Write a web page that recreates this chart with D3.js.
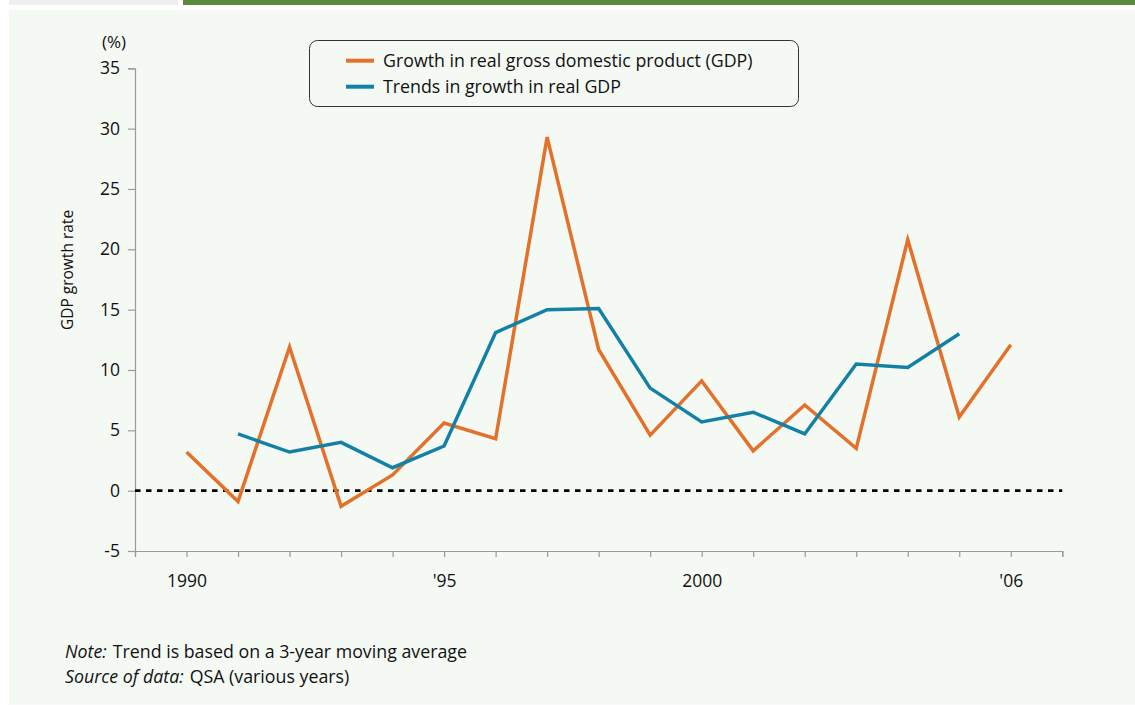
<!DOCTYPE html>
<html>
<head>
<meta charset="utf-8">
<script src="https://cdn.jsdelivr.net/npm/d3@7"></script>
<style>
  html, body { margin: 0; padding: 0; background: #ffffff; }
  svg { display: block; }
  text { font-family: "Open Sans", "Noto Sans", sans-serif; fill: #111; }
</style>
</head>
<body>
<svg id="chart" width="1135" height="707"></svg>
<script>
// ---- data ----
const gdpYears = [1990, 1991, 1992, 1993, 1994, 1995, 1996, 1997, 1998, 1999, 2000, 2001, 2002, 2003, 2004, 2005, 2006];
const gdpGrowth = [3.2, -0.9, 11.9, -1.3, 1.3, 5.6, 4.3, 29.3, 11.7, 4.6, 9.1, 3.3, 7.1, 3.5, 20.8, 6.1, 12.1];
const trendYears = [1991, 1992, 1993, 1994, 1995, 1996, 1997, 1998, 1999, 2000, 2001, 2002, 2003, 2004, 2005];
const trendGrowth = [4.7, 3.2, 4.0, 1.9, 3.7, 13.1, 15.0, 15.1, 8.5, 5.7, 6.5, 4.7, 10.5, 10.2, 13.0];
const yTicks = [-5, 0, 5, 10, 15, 20, 25, 30, 35];
const xTickYears = [1989, 1990, 1991, 1992, 1993, 1994, 1995, 1996, 1997, 1998, 1999, 2000, 2001, 2002, 2003, 2004, 2005, 2006, 2007];
const xLabels = {1990: "1990", 1995: "'95", 2000: "2000", 2006: "'06"};
const legendLabels = ["Growth in real gross domestic product (GDP)", "Trends in growth in real GDP"];
const seriesColors = ["#e3712a", "#1381a5"];

const svg = d3.select("#chart");
const FONT = '"Open Sans", "Noto Sans", sans-serif';

// frame decorations
svg.append("rect").attr("x", 9).attr("y", 0).attr("width", 169).attr("height", 5).attr("fill", "#eeeeee");
svg.append("rect").attr("x", 183).attr("y", 0).attr("width", 952).attr("height", 5).attr("fill", "#5b8a3a");
svg.append("rect").attr("x", 9).attr("y", 10).attr("width", 1126).attr("height", 695).attr("fill", "#f5f9f4");

// scales
const x = d3.scaleLinear().domain([1989, 2007]).range([135, 1062.3]);
const y = d3.scaleLinear().domain([-5, 35]).range([551, 68.3]);

const axisColor = "#9a9a9a";

// y axis
const yAxis = svg.append("g").attr("transform", "translate(135,0)")
  .call(d3.axisLeft(y).tickValues(yTicks).tickSize(7).tickPadding(8).tickFormat(d => d));
yAxis.select(".domain").attr("stroke", axisColor).attr("stroke-width", 1.2);
yAxis.selectAll(".tick line").attr("stroke", axisColor).attr("stroke-width", 1.2);
yAxis.selectAll(".tick text").attr("fill", "#111")
  .style("font-size", "17.5px").style("font-family", FONT);

// x axis
const xAxis = svg.append("g").attr("transform", "translate(0,551)")
  .call(d3.axisBottom(x).tickValues(xTickYears).tickSize(6).tickPadding(18).tickFormat(d => xLabels[d] || ""));
xAxis.select(".domain").attr("stroke", axisColor).attr("stroke-width", 1.2);
xAxis.selectAll(".tick line").attr("stroke", axisColor).attr("stroke-width", 1.2);
xAxis.selectAll(".tick text").attr("fill", "#111")
  .style("font-size", "17.5px").style("font-family", FONT);

// unit label & y title
svg.append("text").attr("x", 114).attr("y", 48).attr("text-anchor", "middle")
  .style("font-size", "17px").text("(%)");
svg.append("text").attr("transform", "translate(73,270) rotate(-90)").attr("text-anchor", "middle")
  .style("font-size", "15.5px").text("GDP growth rate");

// zero line
svg.append("line").attr("x1", x(1989)).attr("x2", x(2007)).attr("y1", y(0)).attr("y2", y(0))
  .attr("stroke", "#000").attr("stroke-width", 2.6).attr("stroke-dasharray", "5.5,5.5");

// lines
const line = d3.line().x(d => x(d[0])).y(d => y(d[1]));
svg.append("path").datum(gdpYears.map((yr, i) => [yr, gdpGrowth[i]]))
  .attr("d", line).attr("fill", "none").attr("stroke", seriesColors[0]).attr("stroke-width", 3.5)
  .attr("stroke-linejoin", "miter");
svg.append("path").datum(trendYears.map((yr, i) => [yr, trendGrowth[i]]))
  .attr("d", line).attr("fill", "none").attr("stroke", seriesColors[1]).attr("stroke-width", 3.5)
  .attr("stroke-linejoin", "miter");

// legend
svg.append("rect").attr("x", 309.5).attr("y", 40.5).attr("width", 489).attr("height", 66).attr("rx", 8)
  .attr("fill", "#f5f9f4").attr("stroke", "#333").attr("stroke-width", 1);
legendLabels.forEach((lab, i) => {
  const ly = 60.7 + i * 26;
  svg.append("line").attr("x1", 346).attr("x2", 374).attr("y1", ly).attr("y2", ly)
    .attr("stroke", seriesColors[i]).attr("stroke-width", 4);
  svg.append("text").attr("x", 383).attr("y", ly + 6).style("font-size", "17.8px").text(lab);
});

// notes
const n1 = svg.append("text").attr("x", 65).attr("y", 658).style("font-size", "17.8px");
n1.append("tspan").attr("font-style", "italic").text("Note:");
n1.append("tspan").attr("dx", 6).text("Trend is based on a 3-year moving average");
const n2 = svg.append("text").attr("x", 65).attr("y", 683).style("font-size", "17.8px");
n2.append("tspan").attr("font-style", "italic").text("Source of data:");
n2.append("tspan").attr("dx", 6).text("QSA (various years)");
</script>
</body>
</html>
